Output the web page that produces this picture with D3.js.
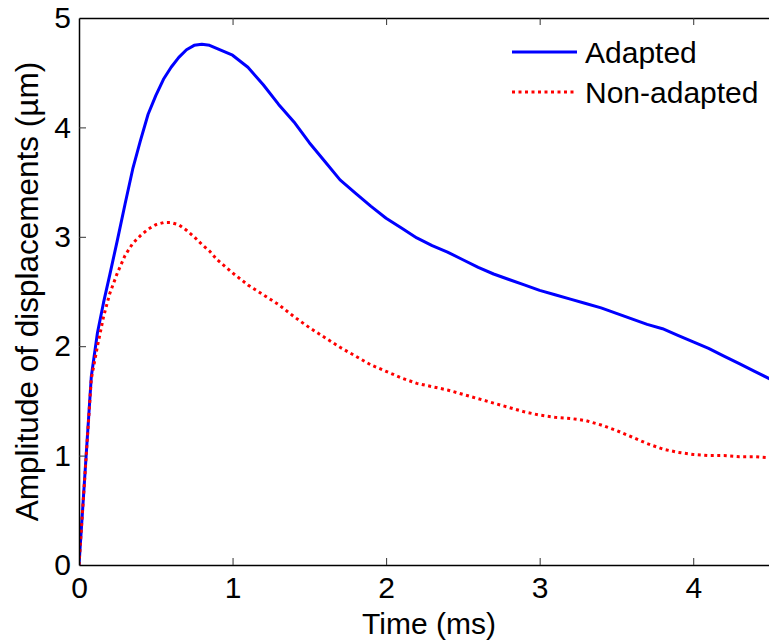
<!DOCTYPE html>
<html>
<head>
<meta charset="utf-8">
<script src="https://cdn.jsdelivr.net/npm/d3@7"></script>
<style>
  body { margin: 0; background: #fff; }
  svg { display: block; }
  text { font-family: "Liberation Sans", Arial, sans-serif; fill: #000; }
</style>
</head>
<body>
<svg id="chart" width="769" height="642"></svg>
<script>
// time samples (ms)
var time = [0, 0.08, 0.12, 0.16, 0.2, 0.25, 0.3, 0.35, 0.4, 0.45, 0.5, 0.55, 0.6, 0.65, 0.7, 0.75, 0.8, 0.85, 0.9,
  1.0, 1.1, 1.2, 1.3, 1.4, 1.5, 1.6, 1.7, 1.8, 1.9, 2.0, 2.1, 2.2, 2.3, 2.4, 2.5, 2.6, 2.7, 2.8, 2.9,
  3.0, 3.1, 3.2, 3.3, 3.4, 3.5, 3.6, 3.7, 3.8, 3.9, 4.0, 4.1, 4.2, 4.3, 4.4, 4.5];

// amplitude of displacements (um)
var adapted = [0, 1.72, 2.12, 2.40, 2.65, 2.97, 3.30, 3.62, 3.88, 4.12, 4.29, 4.44, 4.55, 4.64, 4.71, 4.75, 4.76, 4.75, 4.72,
  4.66, 4.55, 4.39, 4.21, 4.05, 3.86, 3.69, 3.52, 3.40, 3.28, 3.17, 3.08, 2.99, 2.92, 2.86, 2.79, 2.72, 2.66, 2.61, 2.56,
  2.51, 2.47, 2.43, 2.39, 2.35, 2.30, 2.25, 2.20, 2.16, 2.10, 2.04, 1.98, 1.91, 1.84, 1.77, 1.70];

var nonAdapted = [0, 1.70, 2.00, 2.27, 2.48, 2.67, 2.83, 2.94, 3.01, 3.07, 3.11, 3.13, 3.13, 3.11, 3.06, 3.00, 2.93, 2.87, 2.79,
  2.67, 2.56, 2.47, 2.38, 2.27, 2.17, 2.08, 1.99, 1.91, 1.83, 1.77, 1.71, 1.66, 1.63, 1.60, 1.56, 1.52, 1.48, 1.44, 1.40,
  1.37, 1.35, 1.34, 1.32, 1.28, 1.23, 1.17, 1.11, 1.06, 1.03, 1.01, 1.00, 1.00, 0.99, 0.99, 0.98];

var xTicks = [0, 1, 2, 3, 4];
var yTicks = [0, 1, 2, 3, 4, 5];
var seriesNames = ["Adapted", "Non-adapted"];

var mLeft = 79, mTop = 18, mRight = 770, mBottom = 565;
var fontSize = 30;

var svg = d3.select("#chart");

var x = d3.scaleLinear().domain([0, 4.5]).range([mLeft, mRight]);
var y = d3.scaleLinear().domain([0, 5]).range([mBottom, mTop]);

//clip lines to the axes box
svg.append("clipPath").attr("id", "clip")
  .append("rect")
  .attr("x", mLeft).attr("y", mTop)
  .attr("width", mRight - mLeft).attr("height", mBottom - mTop);

var line = d3.line()
  .x(function(d) { return x(d[0]); })
  .y(function(d) { return y(d[1]); });

var blueData = time.map(function(t, i) { return [t, adapted[i]]; });
var redData = time.map(function(t, i) { return [t, nonAdapted[i]]; });

var plot = svg.append("g").attr("clip-path", "url(#clip)");

plot.append("path")
  .attr("d", line(blueData))
  .attr("fill", "none")
  .attr("stroke", "#0000ff")
  .attr("stroke-width", 3)
  .attr("stroke-linejoin", "round");

plot.append("path")
  .attr("d", line(redData))
  .attr("fill", "none")
  .attr("stroke", "#ff0000")
  .attr("stroke-width", 3)
  .attr("stroke-dasharray", "3,3.5");

//axes, MATLAB style box with inward ticks
var axBottom = d3.axisBottom(x).tickValues(xTicks).tickSizeInner(-7).tickSizeOuter(0).tickPadding(12).tickFormat(d3.format("d"));
var axLeft = d3.axisLeft(y).tickValues(yTicks).tickSizeInner(-7).tickSizeOuter(0).tickPadding(8).tickFormat(d3.format("d"));
var axTop = d3.axisTop(x).tickValues(xTicks).tickSizeInner(-7).tickSizeOuter(0).tickFormat("");

var gx = svg.append("g").attr("transform", "translate(0," + mBottom + ")").call(axBottom);
var gy = svg.append("g").attr("transform", "translate(" + mLeft + ",0)").call(axLeft);
var gt = svg.append("g").attr("transform", "translate(0," + mTop + ")").call(axTop);

[gx, gy, gt].forEach(function(g) {
  g.select(".domain").attr("stroke", "#000").attr("stroke-width", 1.5);
  g.selectAll(".tick line").attr("stroke", "#333").attr("stroke-width", 1);
  g.selectAll(".tick text").style("font-size", fontSize + "px").attr("fill", "#000");
});
// ticks that sit on the box corners are hidden
gx.selectAll(".tick line").filter(function(d) { return d === 0; }).remove();
gt.selectAll(".tick line").filter(function(d) { return d === 0; }).remove();
gy.selectAll(".tick line").filter(function(d) { return d === 0 || d === 5; }).remove();

//axis titles
svg.append("text")
  .attr("x", 429).attr("y", 634)
  .attr("text-anchor", "middle")
  .style("font-size", fontSize + "px")
  .text("Time (ms)");

svg.append("text")
  .attr("transform", "translate(38," + ((mTop + mBottom) / 2) + ") rotate(-90)")
  .attr("text-anchor", "middle")
  .style("font-size", "31.5px")
  .text("Amplitude of displacements (\u00b5m)");

//legend
var legend = svg.append("g");
var legendY = [52, 92];
var legendStyle = [{ c: "#0000ff", dash: null }, { c: "#ff0000", dash: "3,3.5" }];
seriesNames.forEach(function(name, i) {
  legend.append("line")
    .attr("x1", 512).attr("x2", 577)
    .attr("y1", legendY[i]).attr("y2", legendY[i])
    .attr("stroke", legendStyle[i].c)
    .attr("stroke-width", 3)
    .attr("stroke-dasharray", legendStyle[i].dash);
  legend.append("text")
    .attr("x", 585).attr("y", legendY[i] + 11)
    .style("font-size", fontSize + "px")
    .text(name);
});
</script>
</body>
</html>
